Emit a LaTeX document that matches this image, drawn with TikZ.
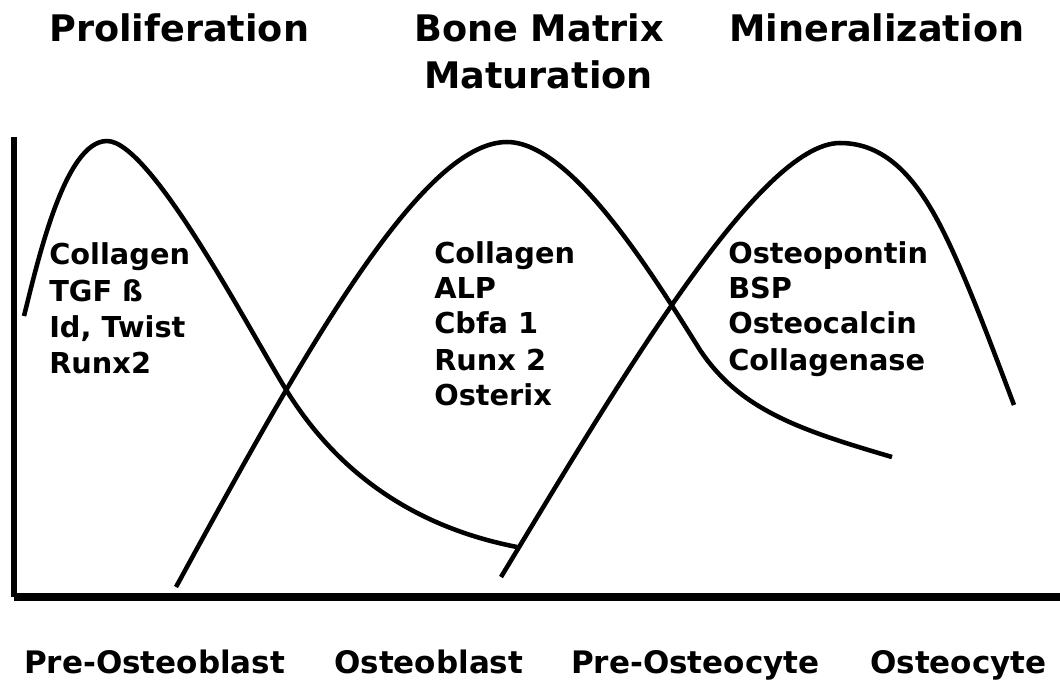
\documentclass[tikz,border=0pt]{standalone}
\usepackage{fontspec}
\setmainfont{DejaVu Sans}
\begin{document}
\begin{tikzpicture}[x=0.75pt,y=-0.75pt,
  head/.style={anchor=base west,inner sep=0pt,font=\bfseries\fontsize{27.45}{33}\selectfont},
  gene/.style={anchor=base west,inner sep=0pt,font=\bfseries\fontsize{21.6}{26}\selectfont},
  stage/.style={anchor=base west,inner sep=0pt,font=\bfseries\fontsize{23.25}{28}\selectfont},
  curve/.style={line width=3.4pt,line join=round}]
\useasboundingbox (0,0) rectangle (1060,679);
% axes
\draw[line width=4.5pt] (14,137) -- (14,597);
\draw[line width=6pt] (14,597) -- (1060,597);
% curve 1 (proliferation)
\draw[curve] (24,316) .. controls (38,260) and (65,141) .. (107,141)
  .. controls (150,141) and (245,322) .. (285,388)
  .. controls (340,478) and (420,528) .. (517,547);
% curve 2 (bone matrix maturation)
\draw[curve] (176,587) .. controls (300,360) and (420,142) .. (507,142)
  .. controls (570,142) and (650,270) .. (700,350)
  .. controls (740,410) and (800,430) .. (892,457);
% curve 3 (mineralization)
\draw[curve] (501,577) .. controls (620,380) and (760,143) .. (840,143)
  .. controls (885,143) and (915,177) .. (940,225)
  .. controls (965,273) and (995,355) .. (1014,405);
% headings
\node[head] (h1) at (49,41) {Proliferation};
\node[head] (h2) at (414,41) {Bone Matrix};
\node[head] (h2b) at (424,88) {Maturation};
\node[head] (h3) at (729,41) {Mineralization};
% gene lists
\node[gene] (a1) at (49,264) {Collagen};
\node[gene] (a2) at (49,301) {TGF ß};
\node[gene] (a3) at (49,337) {Id, Twist};
\node[gene] (a4) at (49,373) {Runx2};
\node[gene] (b1) at (434,263) {Collagen};
\node[gene] (b2) at (434,298) {ALP};
\node[gene] (b3) at (434,333) {Cbfa 1};
\node[gene] (b4) at (434,370) {Runx 2};
\node[gene] (b5) at (434,405) {Osterix};
\node[gene] (c1) at (728,263) {Osteopontin};
\node[gene] (c2) at (728,298) {BSP};
\node[gene] (c3) at (728,333) {Osteocalcin};
\node[gene] (c4) at (728,370) {Collagenase};
% stages
\node[stage] (s1) at (24,673) {Pre-Osteoblast};
\node[stage] (s2) at (334,673) {Osteoblast};
\node[stage] (s3) at (571,673) {Pre-Osteocyte};
\node[stage] (s4) at (870,673) {Osteocyte};
\end{tikzpicture}
\end{document}
